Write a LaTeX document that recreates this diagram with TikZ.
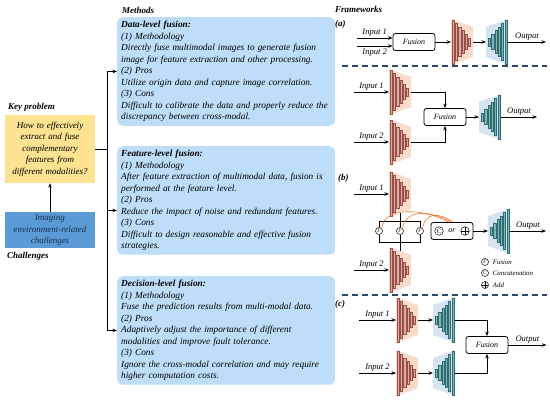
\documentclass[tikz,border=0pt]{standalone}
\usepackage{fontspec}
\setmainfont{Liberation Serif}
\usetikzlibrary{arrows.meta,positioning}

\definecolor{gelb}{RGB}{252,226,145}
\definecolor{stahlblau}{RGB}{91,155,213}
\definecolor{dunkeltext}{RGB}{28,46,84}
\definecolor{hellblau}{RGB}{189,221,249}
\definecolor{encrand}{RGB}{150,78,72}
\definecolor{encfuell}{RGB}{222,172,162}
\definecolor{enchg}{RGB}{249,219,202}
\definecolor{decrand}{RGB}{45,108,112}
\definecolor{decfuell}{RGB}{130,182,182}
\definecolor{dechg}{RGB}{214,228,242}
\definecolor{strich}{RGB}{42,72,112}
\definecolor{bogenfarbe}{RGB}{237,125,49}

% Balkenblock: #1 Hintergrund, #2 Balken
\newcommand{\netzblock}[2]{%
    \fill[#1] (-11,-23) -- (11,-15) -- (11,15) -- (-11,23) -- cycle;
    \foreach \i in {0,...,5}
        \draw[#2] ({-10+3.3*\i},{-22+3.6*\i}) rectangle ++(2.2,{44-7.2*\i});
}

\tikzset{
    pics/encoder/.style={code={
        \netzblock{fill=enchg}{draw=encrand,fill=encfuell,line width=0.6pt}
        \coordinate (-in) at (-11,0);
        \coordinate (-out) at (11,0);
        \coordinate (-top) at (0,-19);
        \coordinate (-bot) at (0,19);
    }},
    pics/decoder/.style={code={
        \begin{scope}[xscale=-1]
            \netzblock{fill=dechg}{draw=decrand,fill=decfuell,line width=0.6pt}
        \end{scope}
        \coordinate (-in) at (-11,0);
        \coordinate (-out) at (11,0);
    }},
    methodbox/.style={fill=hellblau, rounded corners=6pt, anchor=north west,
        text width=210pt, minimum height=107pt, inner xsep=4pt, inner ysep=4pt,
        align=left, font=\fontsize{9.3}{11.5}\selectfont\itshape},
    titel/.style={anchor=west, inner sep=0pt, font=\fontsize{9}{11}\selectfont\bfseries\itshape},
    fusionbox/.style={draw, rounded corners=2.5pt, line width=0.8pt, minimum width=42pt,
        minimum height=17pt, inner sep=1pt, font=\fontsize{8}{8}\selectfont\itshape},
    eingang/.style={inner sep=1.5pt, font=\fontsize{8.5}{9}\selectfont\itshape},
    fknoten/.style={draw, circle, line width=0.5pt, inner sep=0pt, minimum size=7pt,
        font=\fontsize{5}{5}\selectfont\itshape},
    plusknoten/.style={draw, circle, line width=0.5pt, inner sep=0pt, minimum size=#1,
        path picture={\draw[line width=0.5pt] (path picture bounding box.north) -- (path picture bounding box.south)
            (path picture bounding box.west) -- (path picture bounding box.east);}},
    legtext/.style={anchor=west, inner sep=0pt, font=\fontsize{6.8}{7}\selectfont\itshape},
    trenn/.style={strich, line width=1.2pt, dash pattern=on 6pt off 4pt},
    pfeil/.style={->, line width=0.9pt},
    linie/.style={line width=0.9pt},
    bogen/.style={bogenfarbe, line width=0.6pt}
}

\begin{document}
\begin{tikzpicture}[x=1pt, y=-1pt, >={Stealth[length=4.5pt,width=3.5pt]}]
    \useasboundingbox (0,0) rectangle (550,403);

    % linke Seite
    \node[titel] at (8,107) {Key problem};
    \node[fill=gelb, minimum width=90pt, minimum height=68pt, text width=88pt, inner sep=0pt,
        align=center, font=\fontsize{9}{11.5}\selectfont\itshape] (kp) at (50,149)
        {How to effectively\\ extract and fuse\\ complementary\\ features from\\ different modalities?};
    \node[fill=stahlblau, text=dunkeltext, minimum width=90pt, minimum height=36pt, text width=88pt,
        inner sep=0pt, align=center, font=\fontsize{9}{11.5}\selectfont\itshape] (ch) at (50,230)
        {Imaging\\ environment-related\\ challenges};
    \node[titel] at (7,256) {Challenges};
    \draw[pfeil] (ch) -- (kp);

    % Methoden
    \node[titel] at (122,10) {Methods};
    \node[methodbox] (m1) at (117,17) {\textbf{Data-level fusion:}\\
        (1) Methodology\\
        Directly fuse multimodal images to generate fusion\\
        image for feature extraction and other processing.\\
        (2) Pros\\
        Utilize origin data and capture image correlation.\\
        (3) Cons\\
        Difficult to calibrate the data and properly reduce the\\
        discrepancy between cross-modal.};
    \node[methodbox] (m2) at (117,146) {\textbf{Feature-level fusion:}\\
        (1) Methodology\\
        After feature extraction of multimodal data, fusion is\\
        performed at the feature level.\\
        (2) Pros\\
        Reduce the impact of noise and redundant features.\\
        (3) Cons\\
        Difficult to design reasonable and effective fusion\\
        strategies.};
    \node[methodbox] (m3) at (117,276) {\textbf{Decision-level fusion:}\\
        (1) Methodology\\
        Fuse the prediction results from multi-modal data.\\
        (2) Pros\\
        Adaptively adjust the importance of different\\
        modalities and improve fault tolerance.\\
        (3) Cons\\
        Ignore the cross-modal correlation and may require\\
        higher computation costs.};

    % Stamm mit Pfeilen
    \coordinate (stamm) at (107,149);
    \coordinate (m2pfeil) at ([yshift=-10pt]m2.west);
    \draw[linie] (kp.east) -- (stamm);
    \draw[linie] (stamm |- m1.west) -- (stamm |- m3.west);
    \draw[pfeil] (stamm |- m1.west) -- (m1.west);
    \draw[pfeil] (stamm |- m2pfeil) -- (m2pfeil);
    \draw[pfeil] (stamm |- m3.west) -- (m3.west);

    % Frameworks
    \node[titel] at (335,9) {Frameworks};
    \node[titel] at (335,24) {(a)};
    \node[titel] at (338,178) {(b)};
    \node[titel] at (335,304) {(c)};
    \draw[trenn] (342,66) -- (547,66);
    \draw[trenn] (342,295) -- (547,295);

    % (a) Datenebene
    \node[fusionbox] (fa) at (414,42) {Fusion};
    \draw[pfeil] ([xshift=-36pt,yshift=4pt]fa.west) -- node[eingang, above] {Input 1} ([yshift=4pt]fa.west);
    \draw[pfeil] ([xshift=-36pt,yshift=-4pt]fa.west) -- node[eingang, below=1pt] {Input 2} ([yshift=-4pt]fa.west);
    \pic (ea) at (462,42) {encoder};
    \pic (da) at (497,42) {decoder};
    \draw[pfeil] (fa) -- (ea-in);
    \draw[pfeil] (ea-out) -- (da-in);
    \draw[pfeil] (da-out) -- ++(38,0) node[eingang, above, midway] {Output};

    % (b) Merkmalsebene, oben
    \pic (eb1) at (400,92) {encoder};
    \pic (eb2) at (400,142) {encoder};
    \node[fusionbox] (fb) at (445,117) {Fusion};
    \pic (db) at (490,117) {decoder};
    \draw[pfeil] ([xshift=-35pt]eb1-in) -- node[eingang, above] {Input 1} (eb1-in);
    \draw[pfeil] ([xshift=-35pt]eb2-in) -- node[eingang, above] {Input 2} (eb2-in);
    \draw[pfeil] (eb1-out) -| (fb.north);
    \draw[pfeil] (eb2-out) -| (fb.south);
    \draw[pfeil] (fb) -- (db-in);
    \draw[pfeil] (db-out) -- ++(36,0) node[eingang, above, midway] {Output};

    % (b) Merkmalsebene, unten
    \pic (ef1) at (400,194) {encoder};
    \pic (ef2) at (400,270) {encoder};
    \draw[pfeil] ([xshift=-35pt]ef1-in) -- node[eingang, above] {Input 1} (ef1-in);
    \draw[pfeil] ([xshift=-35pt]ef2-in) -- node[eingang, above] {Input 2} (ef2-in);
    \node[fknoten] (k1) at (379,231) {F};
    \node[fknoten] (k2) at (400,231) {F};
    \node[fknoten] (k3) at (420,231) {F};
    \coordinate (obenl) at (379,221);
    \coordinate (obenr) at (420,221);
    \coordinate (untenl) at (379,242);
    \coordinate (untenr) at (420,242);
    \draw[linie] (ef1-bot) -- (k2 |- obenl);
    \draw[linie] (k1.north) -- (obenl) -- (obenr) -- (k3.north);
    \draw[linie] (k2.north) -- (k2 |- obenl);
    \draw[linie] (k1.south) -- (untenl) -- (untenr) -- (k3.south);
    \draw[linie] (k2.south) -- (ef2-top);
    \node[fusionbox] (cb) at (452,231) {\hspace*{8pt}\,or\,\hspace*{8pt}};
    \node[fknoten, minimum size=8.5pt, font=\fontsize{6.5}{6.5}\selectfont] (cc) at ([xshift=-13pt]cb.center) {C};
    \node[plusknoten=8.5pt] (ca) at ([xshift=13pt]cb.center) {};
    \draw[bogen] (k1.north east) .. controls +(2,-22) and +(-26,-14) .. ([xshift=-3pt]cb.north);
    \draw[bogen] (k2.north east) .. controls +(2,-19) and +(-20,-12) .. ([xshift=-1pt]cb.north);
    \draw[bogen] (k3.north east) .. controls +(2,-16) and +(-14,-10) .. ([xshift=1pt]cb.north);
    \pic (df) at (499,231) {decoder};
    \draw[pfeil] (cb) -- (df-in);
    \draw[pfeil] (df-out) -- ++(36,0) node[eingang, above, midway] {Output};

    % Legende
    \node[fknoten] (lf) at (485,262) {F};
    \node[fknoten, font=\fontsize{5}{5}\selectfont] (lc) at (485,273) {C};
    \node[plusknoten=7pt] (la) at (485,285) {};
    \node[legtext, right=4pt of lf] {Fusion};
    \node[legtext, right=4pt of lc] {Concatenation};
    \node[legtext, right=4pt of la] {Add};

    % (c) Entscheidungsebene
    \pic (ec1) at (407,320) {encoder};
    \pic (dc1) at (444,320) {decoder};
    \pic (ec2) at (407,373) {encoder};
    \pic (dc2) at (444,373) {decoder};
    \node[fusionbox] (fuc) at (487,345) {Fusion};
    \draw[pfeil] ([xshift=-37pt]ec1-in) -- node[eingang, above] {Input 1} (ec1-in);
    \draw[pfeil] ([xshift=-37pt]ec2-in) -- node[eingang, above] {Input 2} (ec2-in);
    \draw[pfeil] (ec1-out) -- (dc1-in);
    \draw[pfeil] (ec2-out) -- (dc2-in);
    \draw[pfeil] (dc1-out) -| (fuc.north);
    \draw[pfeil] (dc2-out) -| (fuc.south);
    \draw[pfeil] (fuc.east) -- ++(38,0) node[eingang, above, midway] {Output};
\end{tikzpicture}
\end{document}
